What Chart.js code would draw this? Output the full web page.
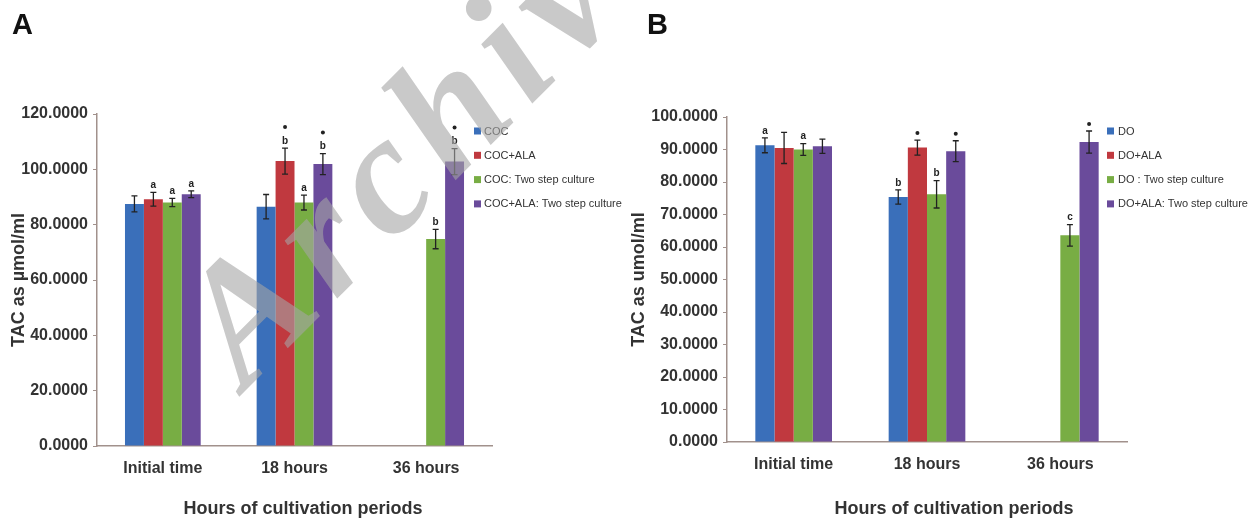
<!DOCTYPE html>
<html>
<head>
<meta charset="utf-8">
<script src="https://cdn.jsdelivr.net/npm/chart.js@4.4.1/dist/chart.umd.min.js"></script>
<style>
  html, body { margin: 0; padding: 0; background: #fff; width: 1260px; height: 519px; overflow: hidden; }
  body { position: relative; font-family: "Liberation Sans", Arial, sans-serif; }
  .panel { position: absolute; top: 0; height: 519px; }
  #panelA { left: 0; width: 645px; }
  #panelB { left: 620px; width: 640px; }
  .tag { position: absolute; font-weight: bold; font-size: 29px; line-height: 29px; color: #111; }
  .xtitle { position: absolute; font-weight: bold; font-size: 18px; line-height: 18px; color: #333; white-space: nowrap; transform: translateX(-50%); }
  .stamp { position: absolute; left: 145px; top: 290px; transform-origin: 0 0; transform: rotate(-45deg);
           font-family: "Liberation Serif", serif; font-style: italic; font-weight: bold; font-size: 170px; line-height: 1;
           letter-spacing: 13px; color: rgba(165, 165, 165, 0.6); white-space: nowrap; pointer-events: none; }
</style>
</head>
<body>
<div class="panel" id="panelA"><canvas id="chartA" width="645" height="519"></canvas></div>
<div class="panel" id="panelB"><canvas id="chartB" width="640" height="519"></canvas></div>
<div class="tag" style="left:12px;top:10px">A</div>
<div class="tag" style="left:647px;top:10px">B</div>
<div class="xtitle" style="left:303px;top:499px">Hours of cultivation periods</div>
<div class="xtitle" style="left:954px;top:499px">Hours of cultivation periods</div>
<div class="stamp">Archive</div>
<script>
const categories = ["Initial time", "18 hours", "36 hours"];

// panel A, cumulus-oocyte complexes
const cocLabels = ["COC", "COC+ALA", "COC: Two step culture", "COC+ALA: Two step culture"];
const cocMean = [87.5, 86.5, null];
const cocErr = [2.9, 4.4, 0];
const cocLetters = ["", "", ""];
const cocStars = [false, false, false];
const cocAlaMean = [89.2, 103.0, null];
const cocAlaErr = [2.5, 4.7, 0];
const cocAlaLetters = ["a", "b", ""];
const cocAlaStars = [false, true, false];
const cocTwoMean = [88.0, 88.0, 74.8];
const cocTwoErr = [1.5, 2.7, 3.5];
const cocTwoLetters = ["a", "a", "b"];
const cocTwoStars = [false, false, false];
const cocAlaTwoMean = [91.0, 101.9, 102.8];
const cocAlaTwoErr = [1.2, 3.8, 4.7];
const cocAlaTwoLetters = ["a", "b", "b"];
const cocAlaTwoStars = [false, true, true];

// panel B, denuded oocytes
const doLabels = ["DO", "DO+ALA", "DO : Two step culture", "DO+ALA: Two step culture"];
const doMean = [91.3, 75.4, null];
const doErr = [2.3, 2.2, 0];
const doLetters = ["a", "b", ""];
const doStars = [false, false, false];
const doAlaMean = [90.5, 90.6, null];
const doAlaErr = [4.8, 2.3, 0];
const doAlaLetters = ["", "", ""];
const doAlaStars = [false, true, false];
const doTwoMean = [90.0, 76.2, 63.6];
const doTwoErr = [1.8, 4.2, 3.3];
const doTwoLetters = ["a", "b", "c"];
const doTwoStars = [false, false, false];
const doAlaTwoMean = [91.0, 89.5, 92.3];
const doAlaTwoErr = [2.2, 3.2, 3.4];
const doAlaTwoLetters = ["", "", ""];
const doAlaTwoStars = [false, true, true];

const colors = ["#3a6fba", "#c0393f", "#78ad44", "#6a4b9b"];
const axisColor = "#a1918c";
const textColor = "#333";

// error bars, significance letters and the side legend
const barMarks = {
  id: "barMarks",
  afterDatasetsDraw(chart) {
    const ctx = chart.ctx;
    const y = chart.scales.y;
    chart.data.datasets.forEach((ds, i) => {
      chart.getDatasetMeta(i).data.forEach((bar, j) => {
        const v = ds.data[j];
        if (v == null) return;
        const top = y.getPixelForValue(v + ds.errors[j]);
        const bot = y.getPixelForValue(v - ds.errors[j]);
        ctx.save();
        ctx.strokeStyle = "#222";
        ctx.lineWidth = 1.3;
        ctx.beginPath();
        ctx.moveTo(bar.x, top); ctx.lineTo(bar.x, bot);
        ctx.moveTo(bar.x - 3, top); ctx.lineTo(bar.x + 3, top);
        ctx.moveTo(bar.x - 3, bot); ctx.lineTo(bar.x + 3, bot);
        ctx.stroke();
        ctx.fillStyle = "#222";
        ctx.textAlign = "center";
        ctx.textBaseline = "middle";
        ctx.font = "bold 10px 'Liberation Sans', Arial, sans-serif";
        let at = top - 7;
        if (ds.letters[j]) {
          ctx.fillText(ds.letters[j], bar.x, at);
          at -= 14;
        }
        if (ds.stars[j]) {
          ctx.beginPath();
          ctx.arc(bar.x, at, 2, 0, Math.PI * 2);
          ctx.fill();
        }
        ctx.restore();
      });
    });
  },
  afterDraw(chart) {
    const o = chart.options.plugins.barMarks;
    const ctx = chart.ctx;
    ctx.save();
    ctx.font = "11px 'Liberation Sans', Arial, sans-serif";
    ctx.textBaseline = "middle";
    chart.data.datasets.forEach((ds, i) => {
      const cy = o.legendY + i * o.legendGap;
      ctx.fillStyle = ds.backgroundColor;
      ctx.fillRect(o.legendX, cy - 3.5, 7, 7);
      ctx.fillStyle = textColor;
      ctx.fillText(ds.label, o.legendX + o.textGap, cy + 0.5);
    });
    ctx.restore();
  }
};

function dataset(label, color, data, errors, letters, stars) {
  return { label, data, errors, letters, stars, backgroundColor: color, borderWidth: 0,
           categoryPercentage: 0.575, barPercentage: 1.0 };
}

function makeChart(id, p) {
  return new Chart(document.getElementById(id), {
    type: "bar",
    data: { labels: categories, datasets: p.datasets },
    plugins: [barMarks],
    options: {
      responsive: false,
      animation: false,
      devicePixelRatio: 1,
      layout: { padding: { top: p.top, right: p.right, left: 0, bottom: 0 } },
      plugins: {
        legend: { display: false },
        tooltip: { enabled: false },
        barMarks: { legendX: p.legendX, legendY: 131, legendGap: 24.3, textGap: p.textGap }
      },
      scales: {
        x: {
          grid: { display: false, drawTicks: false },
          border: { color: axisColor, width: 1.5 },
          ticks: { color: textColor, font: { family: "'Liberation Sans', Arial", weight: "bold", size: 16 }, padding: 13 },
          afterFit: (s) => { s.height = p.xHeight; }
        },
        y: {
          min: 0, max: p.max,
          ticks: { stepSize: p.step, color: textColor, padding: 5,
                   font: { family: "'Liberation Sans', Arial", weight: "bold", size: 16 },
                   callback: (v) => v.toFixed(4) },
          grid: { drawOnChartArea: false, drawTicks: true, tickLength: 4, color: axisColor },
          border: { color: axisColor, width: 1.5 },
          title: { display: true, text: p.yTitle, color: textColor, padding: { top: 8, bottom: 0 },
                   font: { family: "'Liberation Sans', Arial", weight: "bold", size: 18 } },
          afterFit: (s) => { s.width = p.yWidth; }
        }
      }
    }
  });
}

makeChart("chartA", {
  datasets: [
    dataset(cocLabels[0], colors[0], cocMean, cocErr, cocLetters, cocStars),
    dataset(cocLabels[1], colors[1], cocAlaMean, cocAlaErr, cocAlaLetters, cocAlaStars),
    dataset(cocLabels[2], colors[2], cocTwoMean, cocTwoErr, cocTwoLetters, cocTwoStars),
    dataset(cocLabels[3], colors[3], cocAlaTwoMean, cocAlaTwoErr, cocAlaTwoLetters, cocAlaTwoStars)
  ],
  top: 114, right: 645 - 492, xHeight: 519 - 446, yWidth: 97,
  max: 120, step: 20, yTitle: "TAC as µmol/ml", legendX: 474, textGap: 10
});

makeChart("chartB", {
  datasets: [
    dataset(doLabels[0], colors[0], doMean, doErr, doLetters, doStars),
    dataset(doLabels[1], colors[1], doAlaMean, doAlaErr, doAlaLetters, doAlaStars),
    dataset(doLabels[2], colors[2], doTwoMean, doTwoErr, doTwoLetters, doTwoStars),
    dataset(doLabels[3], colors[3], doAlaTwoMean, doAlaTwoErr, doAlaTwoLetters, doAlaTwoStars)
  ],
  top: 117, right: 640 - 507, xHeight: 519 - 442, yWidth: 107,
  max: 100, step: 10, yTitle: "TAC as umol/ml", legendX: 487, textGap: 11
});
</script>
</body>
</html>
